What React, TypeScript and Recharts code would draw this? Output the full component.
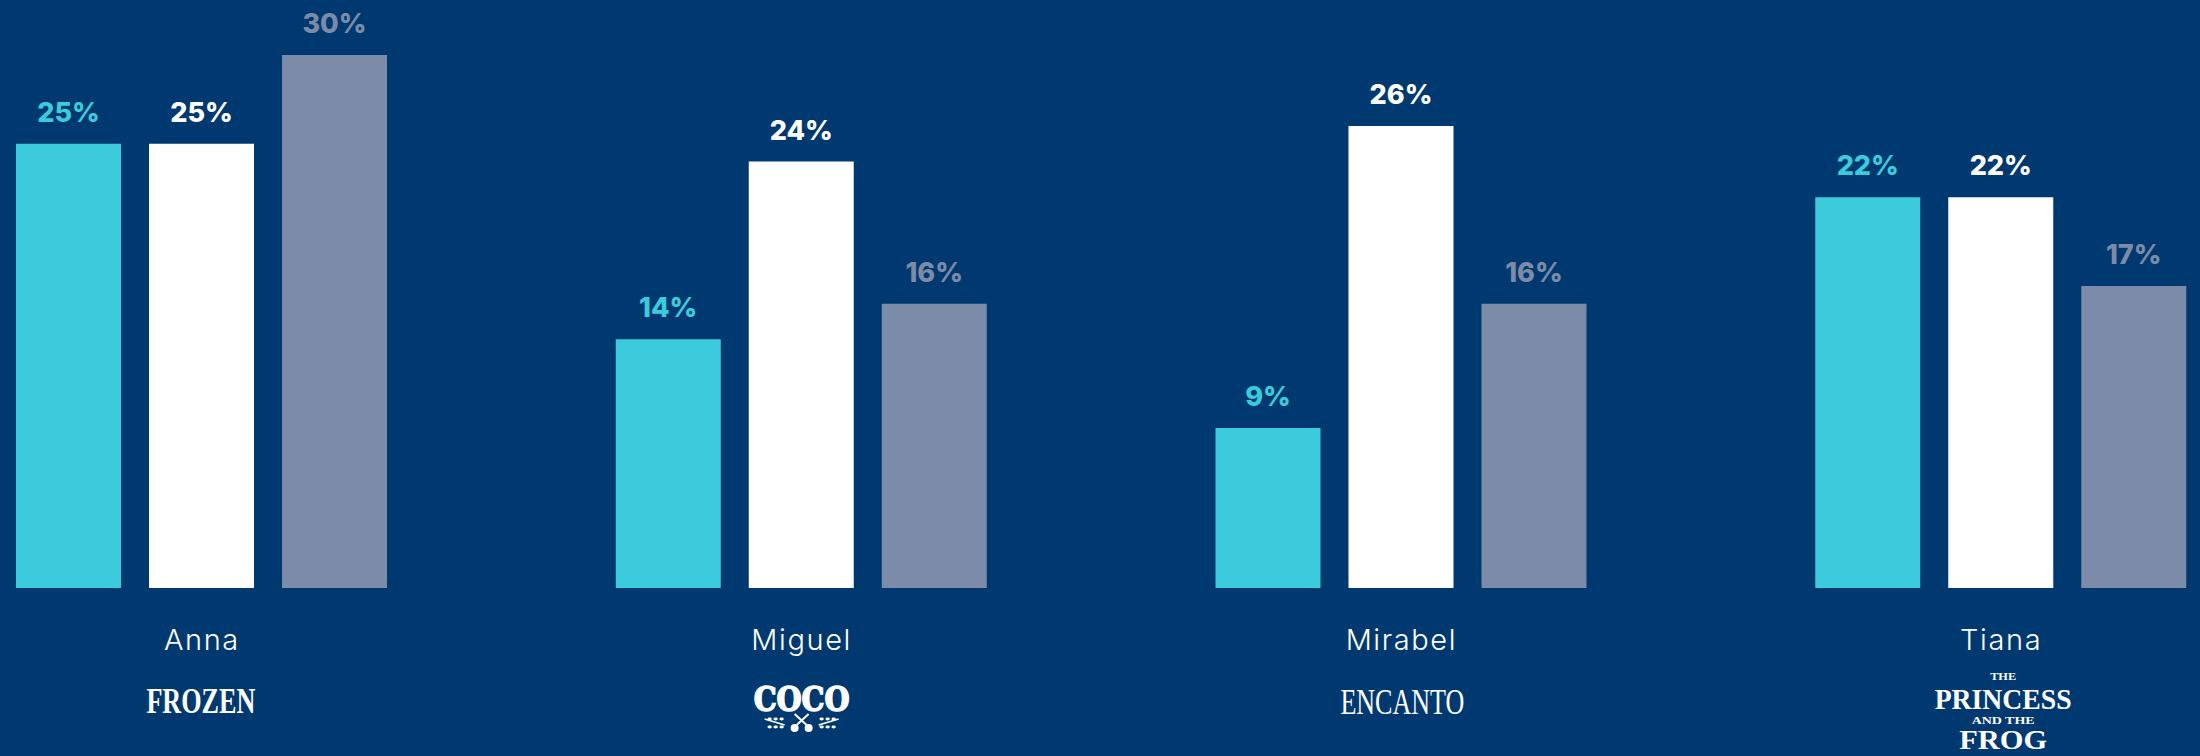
import React from 'react';
import { BarChart, Bar, XAxis, YAxis, LabelList } from 'recharts';

const characters = ['Anna', 'Miguel', 'Mirabel', 'Tiana'];
const tealValues = [25, 14, 9, 22];
const whiteValues = [25, 24, 26, 22];
const greyValues = [30, 16, 16, 17];
const filmTitles = ['FROZEN', 'COCO', 'ENCANTO', 'THE|PRINCESS|AND THE|FROG'];

const NAVY = '#003970';
const TEAL = '#3BCBDC';
const WHITE = '#FFFFFF';
const GREY = '#7B8BA8';

const chartData = characters.map((name, i) => ({
  name,
  teal: tealValues[i],
  white: whiteValues[i],
  grey: greyValues[i],
}));

const UI_FONT = 'Inter, "Noto Sans", sans-serif';
const LOGO_FONT = '"Liberation Serif", "DejaVu Serif", serif';

// Small crossed guitars with sprigs under the Coco title
function CocoOrnament({ x, y }: { x: number; y: number }) {
  const sprig = (dir: number) => (
    <g stroke={WHITE} strokeWidth={1.6} fill={WHITE}>
      <line x1={x + dir * 17} y1={y + 5} x2={x + dir * 37} y2={y - 1} />
      {[20, 26, 32].map((d) => (
        <React.Fragment key={d}>
          <ellipse cx={x + dir * d} cy={y + 7} rx={2.2} ry={1.4} strokeWidth={0} />
          <ellipse cx={x + dir * d} cy={y - 1} rx={2.2} ry={1.4} strokeWidth={0} />
        </React.Fragment>
      ))}
    </g>
  );
  return (
    <g>
      {sprig(-1)}
      {sprig(1)}
      <g stroke={WHITE} strokeWidth={2}>
        <line x1={x - 7} y1={y - 6} x2={x + 5} y2={y + 5} />
        <line x1={x + 7} y1={y - 6} x2={x - 5} y2={y + 5} />
      </g>
      <circle cx={x - 7} cy={y + 8} r={4} fill={WHITE} />
      <circle cx={x + 7} cy={y + 8} r={4} fill={WHITE} />
    </g>
  );
}

function FilmTitle({ x, title }: { x: number; title: string }) {
  const common = { textAnchor: 'middle' as const, fill: WHITE, fontFamily: LOGO_FONT };

  if (title === 'FROZEN') {
    return (
      <text {...common} x={x - 1} y={713} fontSize={36} fontWeight={700} textLength={109} lengthAdjust="spacingAndGlyphs">
        {title}
      </text>
    );
  }
  if (title === 'COCO') {
    return (
      <g>
        <text
          {...common}
          x={x}
          y={711}
          fontSize={34}
          fontWeight={700}
          fontFamily='"DejaVu Serif", serif'
          stroke={WHITE}
          strokeWidth={1.6}
          textLength={96}
          lengthAdjust="spacingAndGlyphs"
        >
          {title}
        </text>
        <CocoOrnament x={x} y={720} />
      </g>
    );
  }
  if (title === 'ENCANTO') {
    return (
      <text {...common} x={x + 1} y={714} fontSize={36} textLength={124} lengthAdjust="spacingAndGlyphs">
        {title}
      </text>
    );
  }
  // four stacked lines for the long title
  const [the, princess, andThe, frog] = title.split('|');
  return (
    <g>
      <text {...common} x={x + 2} y={680} fontSize={10} fontWeight={700} textLength={26} lengthAdjust="spacingAndGlyphs">
        {the}
      </text>
      <text {...common} x={x + 2} y={709} fontSize={30} fontWeight={700} textLength={137} lengthAdjust="spacingAndGlyphs">
        {princess}
      </text>
      <text {...common} x={x + 2} y={724} fontSize={10} fontWeight={700} textLength={63} lengthAdjust="spacingAndGlyphs">
        {andThe}
      </text>
      <text {...common} x={x + 2} y={749} fontSize={28} fontWeight={700} textLength={88} lengthAdjust="spacingAndGlyphs">
        {frog}
      </text>
    </g>
  );
}

function CharacterTick(props: any) {
  const { x, payload, index } = props;
  return (
    <g>
      <text
        x={x}
        y={650}
        textAnchor="middle"
        fill={WHITE}
        fontFamily={UI_FONT}
        fontSize={29}
        fontWeight={300}
        letterSpacing={1.6}
      >
        {payload.value}
      </text>
      <FilmTitle x={x} title={filmTitles[index]} />
    </g>
  );
}

const percent = (v: any) => `${v}%`;

function labelProps(color: string) {
  return {
    position: 'top' as const,
    offset: 22,
    formatter: percent,
    fill: color,
    fontFamily: UI_FONT,
    fontSize: 27,
    fontWeight: 800,
  };
}

export default function App() {
  return (
    <div style={{ position: 'fixed', left: 0, top: 0, width: 2200, height: 756, overflow: 'hidden', background: NAVY }}>
      {/* wider than the page so the outer groups sit close to the edges */}
      <div style={{ position: 'absolute', left: -98.5, top: 0 }}>
        <BarChart
          width={2399}
          height={756}
          data={chartData}
          margin={{ top: 55, right: 0, bottom: 0, left: 0 }}
          barSize={105}
          barGap={28}
        >
          <XAxis dataKey="name" axisLine={false} tickLine={false} tick={<CharacterTick />} interval={0} height={168} />
          <YAxis hide domain={[0, 30]} />
          <Bar dataKey="teal" fill={TEAL} isAnimationActive={false}>
            <LabelList dataKey="teal" {...labelProps(TEAL)} />
          </Bar>
          <Bar dataKey="white" fill={WHITE} isAnimationActive={false}>
            <LabelList dataKey="white" {...labelProps(WHITE)} />
          </Bar>
          <Bar dataKey="grey" fill={GREY} isAnimationActive={false}>
            <LabelList dataKey="grey" {...labelProps(GREY)} />
          </Bar>
        </BarChart>
      </div>
    </div>
  );
}
